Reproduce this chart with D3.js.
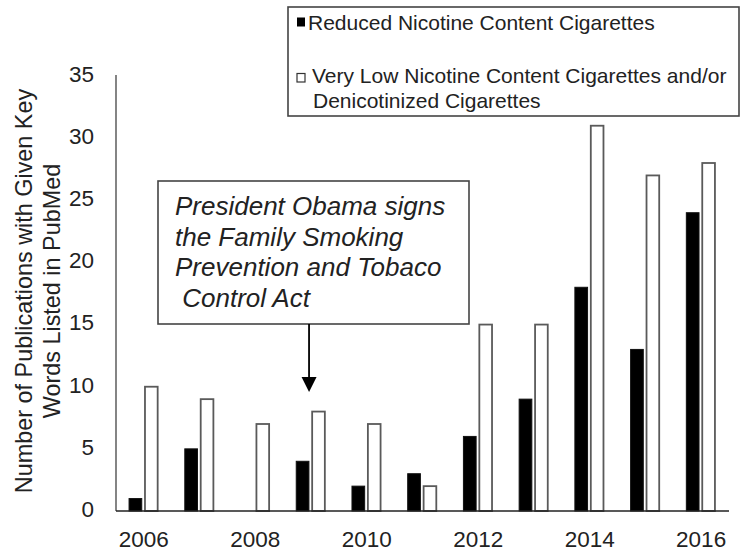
<!DOCTYPE html>
<html><head><meta charset="utf-8">
<script src="https://cdn.jsdelivr.net/npm/d3@7/dist/d3.min.js"></script>
<style>
html,body{margin:0;padding:0;background:#fff;}
svg{display:block;font-family:Arial,"Liberation Sans",sans-serif;}
</style></head>
<body>
<svg id="chart" width="741" height="554"></svg>
<script>
const years = ["2006","2007","2008","2009","2010","2011","2012","2013","2014","2015","2016"];
const reducedNicotine = [1,5,0,4,2,3,6,9,18,13,24];
const veryLowNicotine = [10,9,7,8,7,2,15,15,31,27,28];
const yTicks = [0,5,10,15,20,25,30,35];
const xTickLabels = ["2006","2008","2010","2012","2014","2016"];
const legendLines = ["Reduced Nicotine Content Cigarettes","Very Low Nicotine Content Cigarettes and/or","Denicotinized Cigarettes"];
const yTitle = ["Number of Publications with Given Key","Words Listed in PubMed"];
const annotationLines = ["President Obama signs","the Family Smoking","Prevention and Tobaco"," Control Act"];
const annotationYear = "2009";

(function(){
const svg = d3.select("#chart");
const pLeft = 116, pRight = 729, pBottom = 511, pTop = 76;

const x = d3.scaleBand().domain(years).range([pLeft, pRight]).paddingInner(0).paddingOuter(0);
const y = d3.scaleLinear().domain([0,35]).range([pBottom, pTop]);
const xs = d3.scaleBand().domain(["a","b"]).range([-14.8, 14.8]).paddingInner(0.14);

const cx = d => x(d) + x.bandwidth()/2;

const g = svg.append("g");
g.selectAll("rect.vl").data(years).join("rect")
  .attr("class","vl")
  .attr("x", d => cx(d) + xs("b"))
  .attr("width", xs.bandwidth()-1)
  .attr("y", (d,i) => y(veryLowNicotine[i]))
  .attr("height", (d,i) => y(0) - y(veryLowNicotine[i]))
  .attr("fill","#fff").attr("stroke","#5a5a5a").attr("stroke-width",1.8);
g.selectAll("rect.rn").data(years).join("rect")
  .attr("class","rn")
  .attr("x", d => cx(d) + xs("a"))
  .attr("width", xs.bandwidth()-1)
  .attr("y", (d,i) => y(reducedNicotine[i]))
  .attr("height", (d,i) => y(0) - y(reducedNicotine[i]))
  .attr("fill","#000").attr("stroke","#111").attr("stroke-width",1);

svg.append("line").attr("x1",pLeft).attr("x2",pLeft).attr("y1",pTop-1).attr("y2",pBottom)
  .attr("stroke","#666").attr("stroke-width",1.6);
svg.append("line").attr("x1",pLeft).attr("x2",pRight).attr("y1",pBottom).attr("y2",pBottom)
  .attr("stroke","#222").attr("stroke-width",1.6);

svg.append("g").selectAll("text").data(yTicks).join("text")
  .attr("x", 94).attr("y", d => y(d) - 2).attr("dy","0.35em")
  .attr("text-anchor","end").attr("font-size",22.5).attr("fill","#222")
  .text(d => d);

svg.append("g").selectAll("text").data(xTickLabels).join("text")
  .attr("x", d => cx(d)).attr("y", 547)
  .attr("text-anchor","middle").attr("font-size",22.5).attr("fill","#222")
  .text(d => d);

const yt = svg.append("text").attr("transform","translate(31.5,291) rotate(-90)")
  .attr("text-anchor","middle").attr("font-size",23.4).attr("fill","#222");
yt.selectAll("tspan").data(yTitle).join("tspan")
  .attr("x",0).attr("dy",(d,i)=> i===0?0:28).text(d=>d);

svg.append("rect").attr("x",288).attr("y",7).attr("width",451).attr("height",109)
  .attr("fill","#fff").attr("stroke","#444").attr("stroke-width",1.6);
svg.append("rect").attr("x",297).attr("y",17.5).attr("width",8).attr("height",9)
  .attr("fill","#000");
svg.append("rect").attr("x",297).attr("y",73.5).attr("width",8).attr("height",8.5)
  .attr("fill","#fff").attr("stroke","#333").attr("stroke-width",1.2);
const legPos = [[308,30],[312,83],[313,108]];
svg.append("g").selectAll("text").data(legendLines).join("text")
  .attr("x",(d,i)=>legPos[i][0]).attr("y",(d,i)=>legPos[i][1])
  .attr("font-size",21).attr("fill","#222")
  .text(d=>d);

svg.append("rect").attr("x",158).attr("y",181).attr("width",311).attr("height",143)
  .attr("fill","#fff").attr("stroke","#444").attr("stroke-width",1.6);
svg.append("g").selectAll("text").data(annotationLines).join("text")
  .attr("x",175).attr("y",(d,i)=>215 + i*30.5)
  .attr("font-size",26).attr("font-style","italic").attr("fill","#222")
  .attr("xml:space","preserve").style("white-space","pre")
  .text(d=>d);
const ax = cx(annotationYear) - 2;
svg.append("line").attr("x1",ax).attr("x2",ax).attr("y1",324).attr("y2",380)
  .attr("stroke","#000").attr("stroke-width",1.8);
svg.append("path").attr("d",`M${ax-7.5},377 L${ax+7.5},377 L${ax},392 Z`).attr("fill","#000");
})();
</script>
</body></html>
